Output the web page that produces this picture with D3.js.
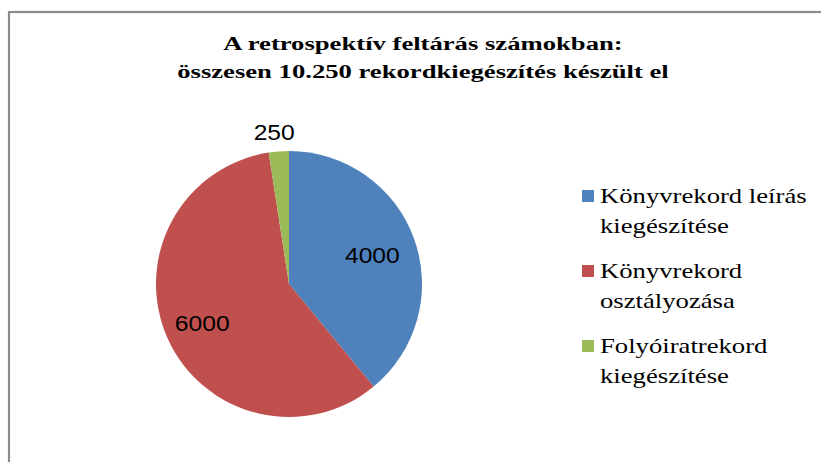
<!DOCTYPE html>
<html>
<head>
<meta charset="utf-8">
<script src="https://cdn.jsdelivr.net/npm/d3@7"></script>
<style>
  html, body { margin: 0; padding: 0; background: #fff; }
  svg { display: block; }
</style>
</head>
<body>
<div id="chart"></div>
<script>
// ---- Data ------------------------------------------------------------------
const titleLines = ['A retrospektív feltárás számokban:', 'összesen 10.250 rekordkiegészítés készült el'];
const categories = [
  ['Könyvrekord leírás', 'kiegészítése'],
  ['Könyvrekord', 'osztályozása'],
  ['Folyóiratrekord', 'kiegészítése']
];
const values = [4000, 6000, 250];
const colors = ['#4F81BD', '#C0504D', '#9BBB59'];

// ---- Layout ----------------------------------------------------------------
const W = 821, H = 462;
const CX = 289, CY = 284, R = 133;
const SERIF = 'Liberation Serif';
const SANS  = 'Liberation Sans';

const svg = d3.select('#chart').append('svg')
  .attr('width', W).attr('height', H);

// chart area border (runs off the right and bottom edges)
svg.append('rect')
  .attr('x', 9).attr('y', 12)
  .attr('width', W + 20).attr('height', H + 20)
  .attr('fill', 'none')
  .attr('stroke', '#8c8c8c')
  .attr('stroke-width', 2.2);

// stretch text horizontally like the original (wide glyphs)
function stretch(sel, k) {
  sel.each(function () {
    const len = this.getComputedTextLength();
    d3.select(this).attr('textLength', len * k).attr('lengthAdjust', 'spacingAndGlyphs');
  });
}

// ---- Title -----------------------------------------------------------------
const title = svg.append('g');
title.selectAll('text').data(titleLines).join('text')
  .attr('x', 423)
  .attr('y', (d, i) => 50 + i * 27.5)
  .attr('text-anchor', 'middle')
  .attr('font-family', SERIF)
  .attr('font-weight', 'bold')
  .attr('font-size', 18)
  .attr('fill', '#000')
  .text(d => d)
  .call(stretch, 1.48);

// ---- Pie -------------------------------------------------------------------
const pie = d3.pie().sort(null).value(d => d)(values);
const arc = d3.arc().innerRadius(0).outerRadius(R);
const inLabel  = d3.arc().innerRadius(R * 0.69).outerRadius(R * 0.69);
const outLabel = d3.arc().innerRadius(R * 1.16).outerRadius(R * 1.16);
const total = d3.sum(values);

const g = svg.append('g').attr('transform', `translate(${CX},${CY})`);

g.selectAll('path').data(pie).join('path')
  .attr('d', arc)
  .attr('fill', (d, i) => colors[i]);

// data labels: small slices are placed outside
g.selectAll('text').data(pie).join('text')
  .attr('transform', d => {
    const a = d.value / total < 0.05 ? outLabel : inLabel;
    const [x, y] = a.centroid(d);
    return `translate(${x - 3},${y + 2})`;
  })
  .attr('dy', '0.36em')
  .attr('text-anchor', 'middle')
  .attr('font-family', SANS)
  .attr('font-size', 22)
  .attr('fill', '#000')
  .text(d => d.value)
  .call(stretch, 1.12);

// ---- Legend ----------------------------------------------------------------
const legend = svg.append('g').attr('transform', 'translate(582,190)');
const item = legend.selectAll('g').data(categories).join('g')
  .attr('transform', (d, i) => `translate(0,${i * 75})`);

item.append('rect')
  .attr('width', 12).attr('height', 12)
  .attr('fill', (d, i) => colors[i]);

item.selectAll('text').data(d => d).join('text')
  .attr('x', 18)
  .attr('y', (d, j) => 13 + j * 30)
  .attr('font-family', SERIF)
  .attr('font-size', 21)
  .attr('fill', '#000')
  .text(d => d)
  .call(stretch, 1.27);
</script>
</body>
</html>
